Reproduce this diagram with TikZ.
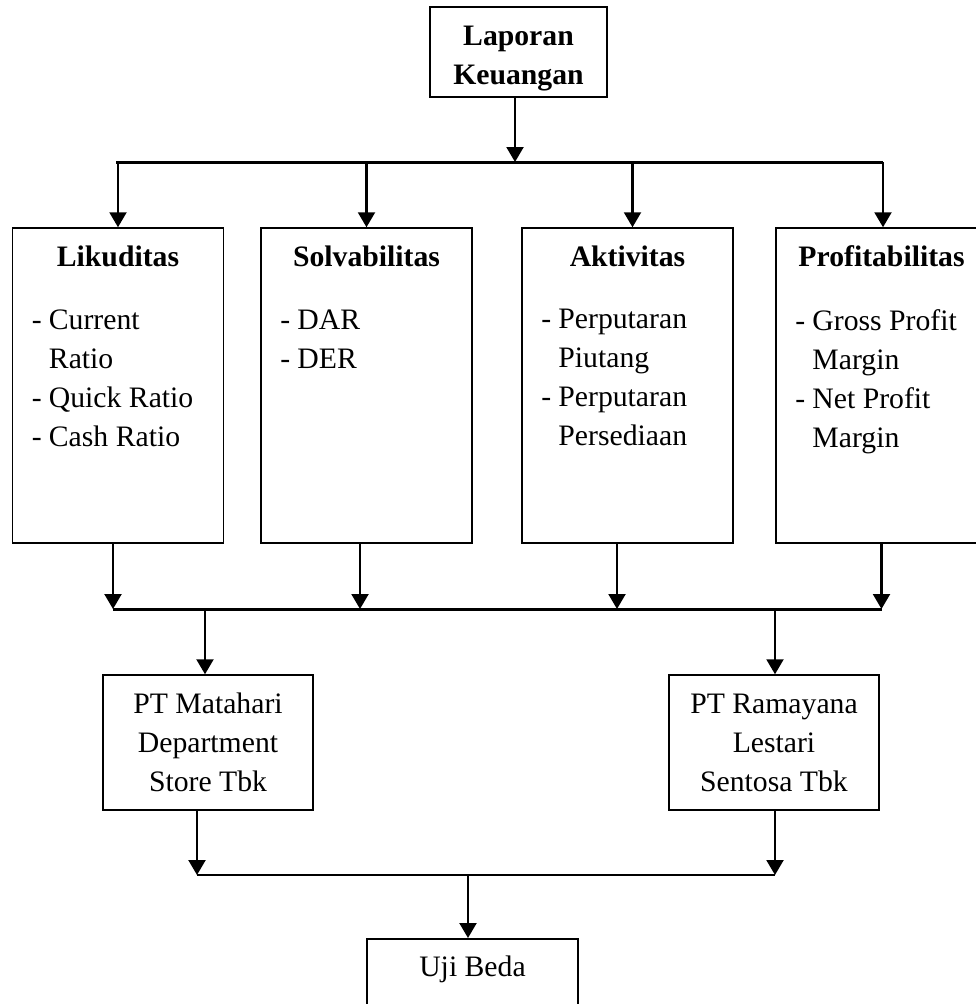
\documentclass[tikz,border=0pt]{standalone}
\usepackage{fontspec}
\setmainfont{Liberation Serif}
\usetikzlibrary{arrows.meta}
\newcommand{\butir}{\makebox[17pt][l]{-}}
\newcommand{\lanjut}{\hspace*{17pt}}
\begin{document}
\begin{tikzpicture}[x=1pt,y=-1pt,
  every node/.style={font=\fontsize{29.7}{39}\selectfont},
  kotak/.style={draw,line width=1.5pt,inner sep=0pt},
  rasio/.style={kotak,minimum width=211pt,minimum height=315pt},
  perusahaan/.style={kotak,minimum width=210pt,minimum height=135pt,align=center},
  judul/.style={font=\fontsize{29.7}{39}\selectfont\bfseries,anchor=base},
  isi/.style={anchor=north west,align=left,inner sep=0pt},
  panah/.style={line width=2.2pt,-{Triangle[length=15pt,width=17pt]}},
  garis/.style={line width=3pt}]
\useasboundingbox (0,0) rectangle (976,1004);
% laporan keuangan
\node[kotak,minimum width=177pt,minimum height=90pt,align=center,
  font=\fontsize{29.7}{39}\selectfont\bfseries] (lap) at (518.5,52)
  {\rule{0pt}{32pt}Laporan\\Keuangan};
\coordinate (b1l) at (116,162);
\coordinate (b1r) at (883,162);
\draw[garis] (b1l) -- (b1r);
\draw[panah] ([xshift=-3.5pt]lap.south) -- ([xshift=-3.5pt]lap.south |- b1l);
% rasio keuangan
\node[rasio] (lik) at (118,385.5) {};
\node[rasio] (sol) at (366.5,385.5) {};
\node[rasio] (akt) at (627.5,385.5) {};
\node[rasio] (pro) at (881.5,385.5) {};
\node[judul] (likt) at (118,266) {Likuditas};
\node[judul] (solt) at (366.5,266) {Solvabilitas};
\node[judul] (aktt) at (627.5,266) {Aktivitas};
\node[judul] (prot) at (881.5,266) {Profitabilitas};
\node[isi] (liki) at ([xshift=20pt,yshift=-82pt]lik.north west)
  {\butir Current\\\lanjut Ratio\\\butir Quick Ratio\\\butir Cash Ratio};
\node[isi] (soli) at ([xshift=20pt,yshift=-82pt]sol.north west)
  {\butir DAR\\\butir DER};
\node[isi] (akti) at ([xshift=20pt,yshift=-82pt]akt.north west)
  {\butir Perputaran\\\lanjut Piutang\\\butir Perputaran\\\lanjut Persediaan};
\node[isi] (proi) at ([xshift=20pt,yshift=-82pt]pro.north west)
  {\butir Gross Profit\\\lanjut Margin\\\butir Net Profit\\\lanjut Margin};
\draw[panah] (lik.north |- b1l) -- (lik.north);
\draw[panah] (sol.north |- b1l) -- (sol.north);
\draw[panah] ([xshift=5pt]akt.north |- b1l) -- ([xshift=5pt]akt.north);
\draw[panah] ([xshift=1.5pt]pro.north |- b1l) -- ([xshift=1.5pt]pro.north);
% ke perusahaan
\coordinate (b2l) at (113,609);
\coordinate (b2r) at (882,609);
\draw[garis] (b2l) -- (b2r);
\draw[panah] ([xshift=-5pt]lik.south) -- ([xshift=-5pt]lik.south |- b2l);
\draw[panah] ([xshift=-6.5pt]sol.south) -- ([xshift=-6.5pt]sol.south |- b2l);
\draw[panah] ([xshift=-10.5pt]akt.south) -- ([xshift=-10.5pt]akt.south |- b2l);
\draw[panah] (pro.south) -- (pro.south |- b2l);
\node[perusahaan] (mat) at (208,742.5) {PT Matahari\\Department\\Store Tbk};
\node[perusahaan] (ram) at (774,742.5) {PT Ramayana\\Lestari\\Sentosa Tbk};
\draw[panah] ([xshift=-3pt]mat.north |- b2l) -- ([xshift=-3pt]mat.north);
\draw[panah] ([xshift=1pt]ram.north |- b2l) -- ([xshift=1pt]ram.north);
% uji beda
\coordinate (b3l) at (197,875);
\coordinate (b3r) at (775,875);
\draw[line width=2pt] (b3l) -- (b3r);
\draw[panah] ([xshift=-11pt]mat.south) -- ([xshift=-11pt]mat.south |- b3l);
\draw[panah] ([xshift=1pt]ram.south) -- ([xshift=1pt]ram.south |- b3r);
\node[kotak,minimum width=211pt,minimum height=80pt,anchor=north] (uji) at (472.5,938)
  {Uji Beda\rule[-25pt]{0pt}{1pt}};
\draw[panah] ([xshift=-4.5pt]uji.north |- b3l) -- ([xshift=-4.5pt]uji.north);
\end{tikzpicture}
\end{document}
